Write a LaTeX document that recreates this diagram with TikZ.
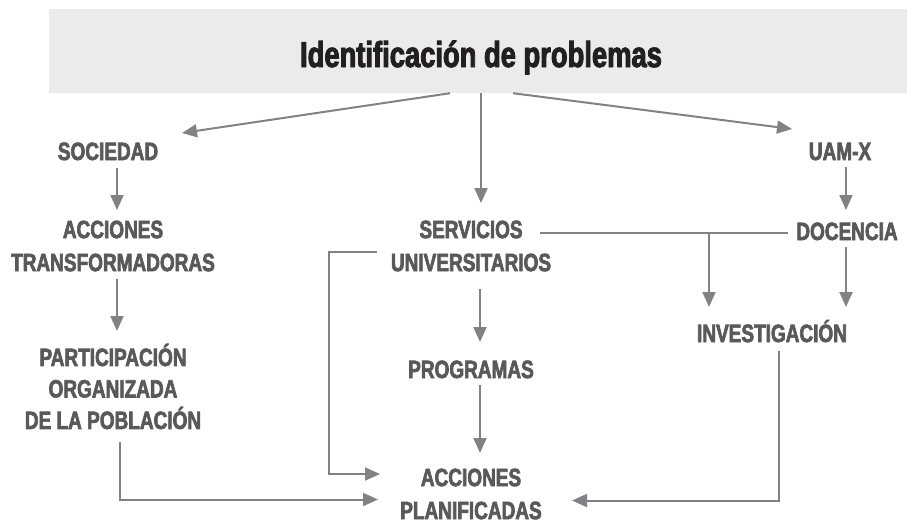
\documentclass[tikz,border=0pt]{standalone}
\usepackage{fontspec}
\usetikzlibrary{arrows.meta}
\newfontfamily\condfont[FakeStretch=0.76,UprightFont={* Bold},FakeBold=2.6]{Liberation Sans}
\definecolor{txtgray}{HTML}{58595B}
\definecolor{titlegray}{HTML}{231F20}
\definecolor{arrgray}{HTML}{808285}
\definecolor{headgray}{HTML}{EBEBEB}
\tikzset{
  box/.style={font=\condfont\fontsize{25}{33}\selectfont, text=txtgray, align=center, inner sep=0pt},
  headbox/.style={fill=headgray, inner sep=0pt, minimum width=858pt, minimum height=84pt},
  titletext/.style={font=\condfont\fontsize{36}{40}\selectfont, text=titlegray, inner sep=0pt},
  link/.style={draw=arrgray, line width=2pt},
  arr/.style={link, -{Triangle[length=15pt,width=13pt]}},
}

\begin{document}
\begin{tikzpicture}[x=1pt,y=-1pt]
    \useasboundingbox (0,0) rectangle (907,523);
    \node (head) [headbox] at (478,51) {};
    \node (title) [titletext, anchor=base] at (481,67) {Identificación de problemas};

    \node (soc) [box, anchor=base] at (108,160) {SOCIEDAD};
    \node (uam) [box, anchor=base] at (840,160) {UAM-X};
    \node (acct) [box] at (113,246) {ACCIONES\\TRANSFORMADORAS};
    \node (part) [box, font=\condfont\fontsize{25}{31.5}\selectfont] at (113,386.5) {PARTICIPACIÓN\\ORGANIZADA\\DE LA POBLACIÓN};
    \node (serv) [box] at (471,246) {SERVICIOS\\UNIVERSITARIOS};
    \node (prog) [box, anchor=base] at (471,378) {PROGRAMAS};
    \node (accp) [box] at (471,494) {ACCIONES\\PLANIFICADAS};
    \node (doc) [box, anchor=base] at (847,240) {DOCENCIA};
    \node (inv) [box, anchor=base] at (772,342) {INVESTIGACIÓN};
    \coordinate (fork) at ([shift={(-138,-7)}]doc.base);

    \draw[arr] ([shift={(-28,0)}]head.south) -- ([shift={(74,-27)}]soc.base);
    \draw[arr] ([shift={(3,0)}]head.south) -- ([shift={(10,-43)}]serv.center);
    \draw[arr] ([shift={(35,0)}]head.south) -- ([shift={(-48,-31)}]uam.base);

    \draw[arr] ([shift={(9,8)}]soc.base) -- ([shift={(4,-36)}]acct.center);
    \draw[arr] ([shift={(4,33)}]acct.center) -- ([shift={(4,-55.5)}]part.center);
    \draw[arr] ([shift={(7,55.5)}]part.center) |- ([shift={(-93,5.5)}]accp.center);

    \draw[arr] ([shift={(9,43)}]serv.center) -- ([shift={(9,-36)}]prog.base);
    \draw[arr] ([shift={(9,7)}]prog.base) -- ([shift={(9,-41)}]accp.center);
    \draw[arr] ([shift={(-94,6)}]serv.center) -- ++(-48,0) |- ([shift={(-91,-20)}]accp.center);

    \draw[arr] ([shift={(6,7)}]uam.base) -- ([shift={(-1,-30)}]doc.base);
    \draw[arr] ([shift={(-1,7)}]doc.base) -- ([shift={(74,-35)}]inv.base);
    \draw[link] ([shift={(69,-13)}]serv.center) -- ([shift={(-59,-7)}]doc.base);
    \draw[arr] (fork) -- ([shift={(-63,-35)}]inv.base);
    \draw[arr] ([shift={(7,9)}]inv.base) |- ([shift={(101,6.5)}]accp.center);
\end{tikzpicture}
\end{document}
